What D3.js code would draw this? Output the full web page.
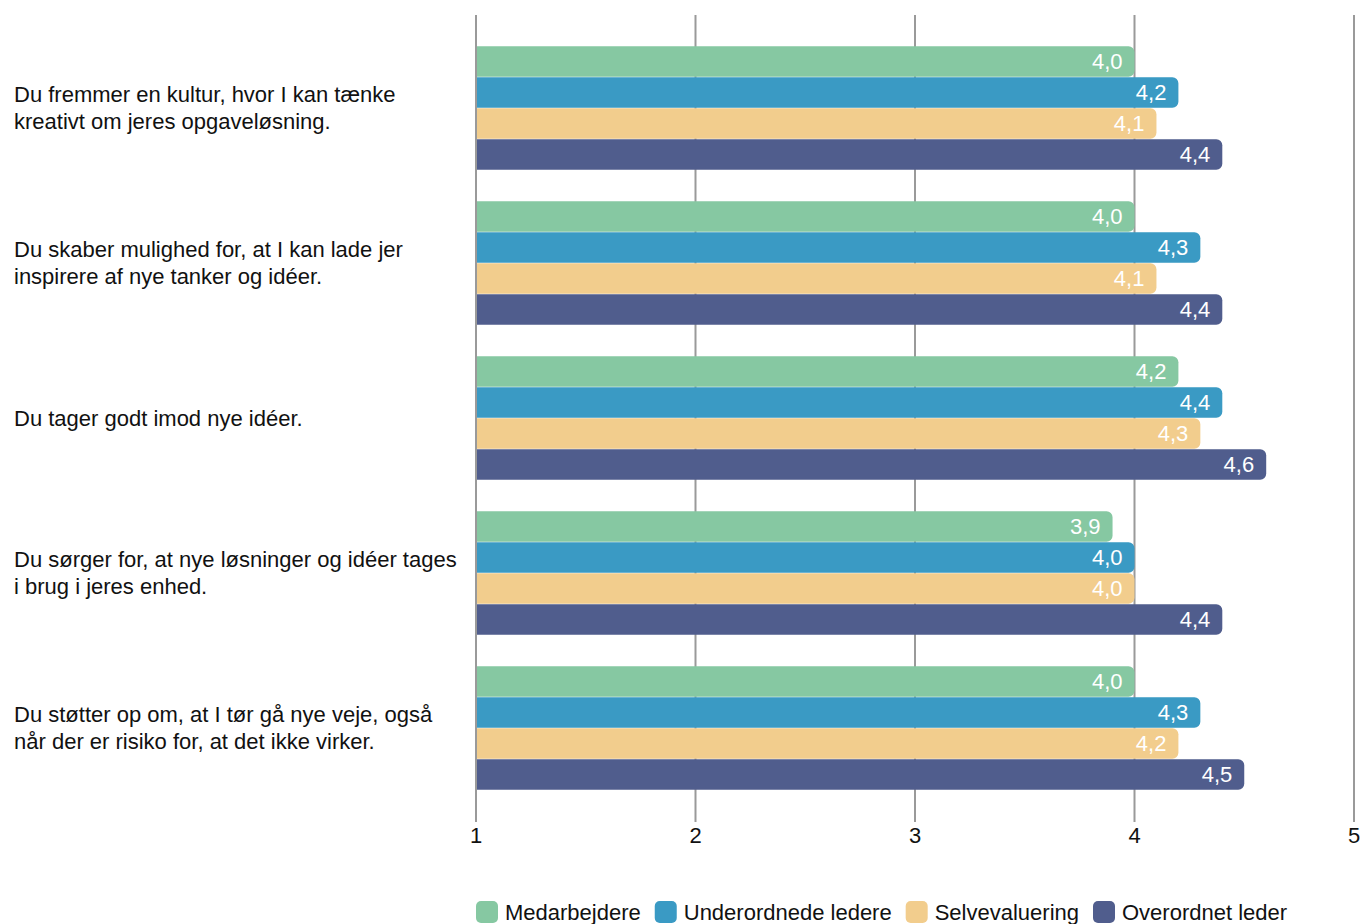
<!DOCTYPE html>
<html>
<head>
<meta charset="utf-8">
<script src="https://cdn.jsdelivr.net/npm/d3@7"></script>
<style>
  html, body { margin: 0; padding: 0; background: #ffffff; }
  svg { display: block; font-family: "Liberation Sans", Arial, sans-serif; }
</style>
</head>
<body>
<svg id="chart" width="1362" height="924"></svg>
<script>
// Questions (line breaks marked with \n)
const categories = [
  "Du fremmer en kultur, hvor I kan tænke\nkreativt om jeres opgaveløsning.",
  "Du skaber mulighed for, at I kan lade jer\ninspirere af nye tanker og idéer.",
  "Du tager godt imod nye idéer.",
  "Du sørger for, at nye løsninger og idéer tages\ni brug i jeres enhed.",
  "Du støtter op om, at I tør gå nye veje, også\nnår der er risiko for, at det ikke virker."
];
const seriesNames = ["Medarbejdere", "Underordnede ledere", "Selvevaluering", "Overordnet leder"];
const seriesColors = ["#86c8a2", "#3a9ac4", "#f2cd8d", "#505d8d"];
const medarbejdere = [4.0, 4.0, 4.2, 3.9, 4.0];
const underordnede = [4.2, 4.3, 4.4, 4.0, 4.3];
const selvevaluering = [4.1, 4.1, 4.3, 4.0, 4.2];
const overordnet = [4.4, 4.4, 4.6, 4.4, 4.5];
const tickValues = [1, 2, 3, 4, 5];

const seriesValues = [medarbejdere, underordnede, selvevaluering, overordnet];

const svg = d3.select("#chart");
const plotLeft = 476, plotRight = 1354, plotTop = 15, plotBottom = 821;
const fontSize = 22;

const x = d3.scaleLinear().domain([1, 5]).range([plotLeft, plotRight]);
const y = d3.scaleBand().domain(d3.range(categories.length)).range([plotTop, plotBottom])
  .paddingInner(0.2).paddingOuter(0.2);
const ySub = d3.scaleBand().domain(d3.range(seriesNames.length)).range([0, y.bandwidth()]);

const fmt = v => d3.format(".1f")(v).replace(".", ",");

// vertical grid lines
svg.append("g").selectAll("line").data(tickValues).join("line")
  .attr("x1", d => x(d)).attr("x2", d => x(d))
  .attr("y1", plotTop).attr("y2", plotBottom + 1)
  .attr("stroke", "#9a9a9a").attr("stroke-width", 2);

// tick labels
svg.append("g").selectAll("text").data(tickValues).join("text")
  .attr("x", d => x(d)).attr("y", 835).attr("dy", "0.35em")
  .attr("text-anchor", "middle")
  .attr("font-size", fontSize).attr("fill", "#111")
  .text(d => d);

// bars: square left edge, rounded right end
const r = 6;
function barPath(x0, x1, y0, h) {
  const rr = Math.min(r, (x1 - x0) / 2, h / 2);
  return `M${x0},${y0}H${x1 - rr}A${rr},${rr} 0 0 1 ${x1},${y0 + rr}` +
    `V${y0 + h - rr}A${rr},${rr} 0 0 1 ${x1 - rr},${y0 + h}H${x0}Z`;
}

const rows = [];
categories.forEach((c, i) => {
  seriesValues.forEach((vals, s) => rows.push({ cat: i, s, v: vals[i] }));
});

const barG = svg.append("g");
barG.selectAll("path").data(rows).join("path")
  .attr("d", d => {
    const y0 = y(d.cat) + ySub(d.s);
    return barPath(x(1) + 1, x(d.v), y0 + 0.3, ySub.bandwidth() - 0.6);
  })
  .attr("fill", d => seriesColors[d.s]);

barG.selectAll("text").data(rows).join("text")
  .attr("x", d => x(d.v) - 12)
  .attr("y", d => y(d.cat) + ySub(d.s) + ySub.bandwidth() / 2)
  .attr("dy", "0.35em")
  .attr("text-anchor", "end")
  .attr("font-size", fontSize).attr("fill", "#ffffff")
  .text(d => fmt(d.v));

// category labels
const lineH = 27;
const catG = svg.append("g");
categories.forEach((c, i) => {
  const lines = c.split("\n");
  const cy = y(i) + y.bandwidth() / 2;
  const t = catG.append("text")
    .attr("x", 14).attr("font-size", fontSize).attr("fill", "#111");
  lines.forEach((ln, k) => {
    t.append("tspan").attr("x", 14)
      .attr("y", cy + (k - (lines.length - 1) / 2) * lineH)
      .attr("dy", "0.35em").text(ln);
  });
});

// legend
const legend = svg.append("g");
let lx = plotLeft;
seriesNames.forEach((name, s) => {
  legend.append("rect").attr("x", lx).attr("y", 901).attr("width", 22).attr("height", 22)
    .attr("rx", 5).attr("fill", seriesColors[s]);
  const t = legend.append("text").attr("x", lx + 29).attr("y", 912).attr("dy", "0.35em")
    .attr("font-size", fontSize).attr("fill", "#111").text(name);
  lx += 29 + t.node().getComputedTextLength() + 14;
});
</script>
</body>
</html>
